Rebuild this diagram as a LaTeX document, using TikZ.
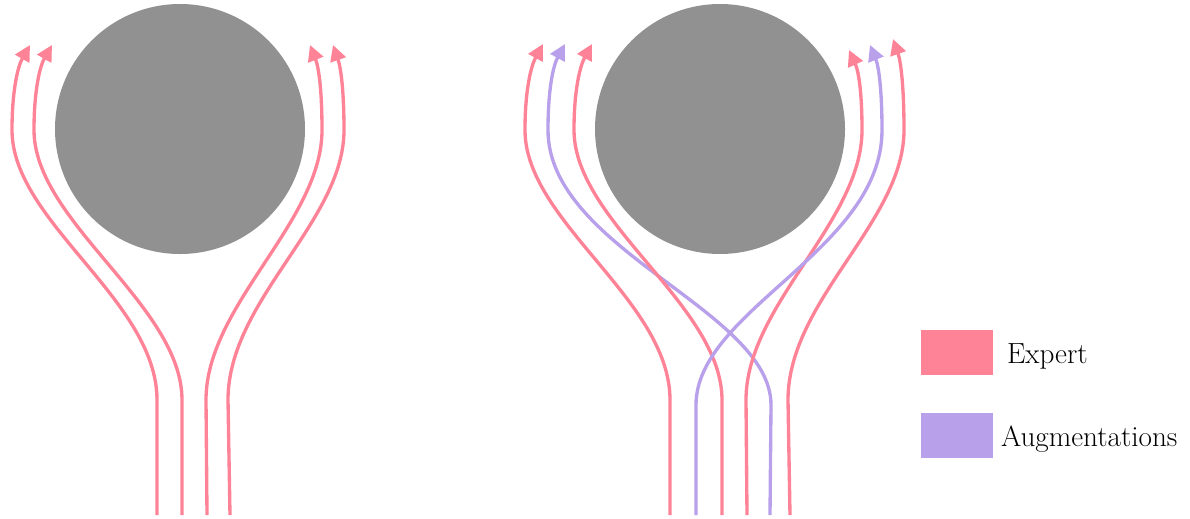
\documentclass[tikz,border=0pt]{standalone}
\usepackage{xcolor}
\usepackage{tikz}
\usetikzlibrary{positioning, arrows.meta}

\definecolor{expertpink}{HTML}{FF8397}
\definecolor{augpurple}{HTML}{B8A0EA}
\definecolor{obstgray}{HTML}{919191}

\begin{document}
\begin{tikzpicture}[x=0.02cm, y=-0.02cm,
        flow/.style={line width=1.9pt, -{Triangle[length=9pt, width=9pt]}},
        expert/.style={flow, expertpink},
        augment/.style={flow, augpurple},
        legbox/.style={minimum width=1.44cm, minimum height=0.9cm, inner sep=0pt},
        legtext/.style={font=\fontsize{16.6}{20}\selectfont, yshift=-2.3pt}]
        \useasboundingbox (0,0) rectangle (1190,518);

        % obstacles
        \fill[obstgray] (180,129) circle[radius=125];
        \fill[obstgray] (720,129) circle[radius=125];

        % left: expert only
        \draw[expert] (157,515) -- (157,400) .. controls (157,300) and (12,222) .. (12,130) .. controls (12,90) and (18,66) .. (30,45);
        \draw[expert] (182,515) -- (182,400) .. controls (182,305) and (34,222) .. (34,130) .. controls (34,90) and (40,66) .. (52,45);
        \draw[expert] (207,515) -- (206,400) .. controls (206,305) and (322,222) .. (322,130) .. controls (322,92) and (319,68) .. (310,45);
        \draw[expert] (230,515) -- (228,400) .. controls (228,300) and (344,222) .. (344,130) .. controls (344,92) and (341,68) .. (333,45);

        % right: expert + augmentations
        \draw[expert] (670,515) -- (670,400) .. controls (670,300) and (525,222) .. (525,130) .. controls (525,90) and (531,66) .. (543,44);
        \draw[augment] (770,515) -- (771,405) .. controls (771,310) and (548,250) .. (548,130) .. controls (548,90) and (553,66) .. (565,44);
        \draw[expert] (722,515) -- (722,400) .. controls (722,305) and (574,222) .. (574,130) .. controls (574,90) and (580,66) .. (592,44);
        \draw[expert] (747,515) -- (746,400) .. controls (746,305) and (862,222) .. (862,130) .. controls (862,95) and (859,72) .. (849,50);
        \draw[augment] (696,515) -- (696,405) .. controls (696,310) and (882,250) .. (882,130) .. controls (882,92) and (879,67) .. (870,45);
        \draw[expert] (790,515) -- (788,400) .. controls (788,300) and (904,222) .. (904,130) .. controls (904,88) and (901,62) .. (893,39);

        % legend
        \node[legbox, fill=expertpink] (expbox) at (957,352) {};
        \node[legbox, fill=augpurple] (augbox) at (957,435) {};
        \node[right=0.15cm of expbox, legtext] (explabel) {Expert};
        \node[right=0.03cm of augbox, legtext] (auglabel) {Augmentations};
    \end{tikzpicture}
\end{document}
